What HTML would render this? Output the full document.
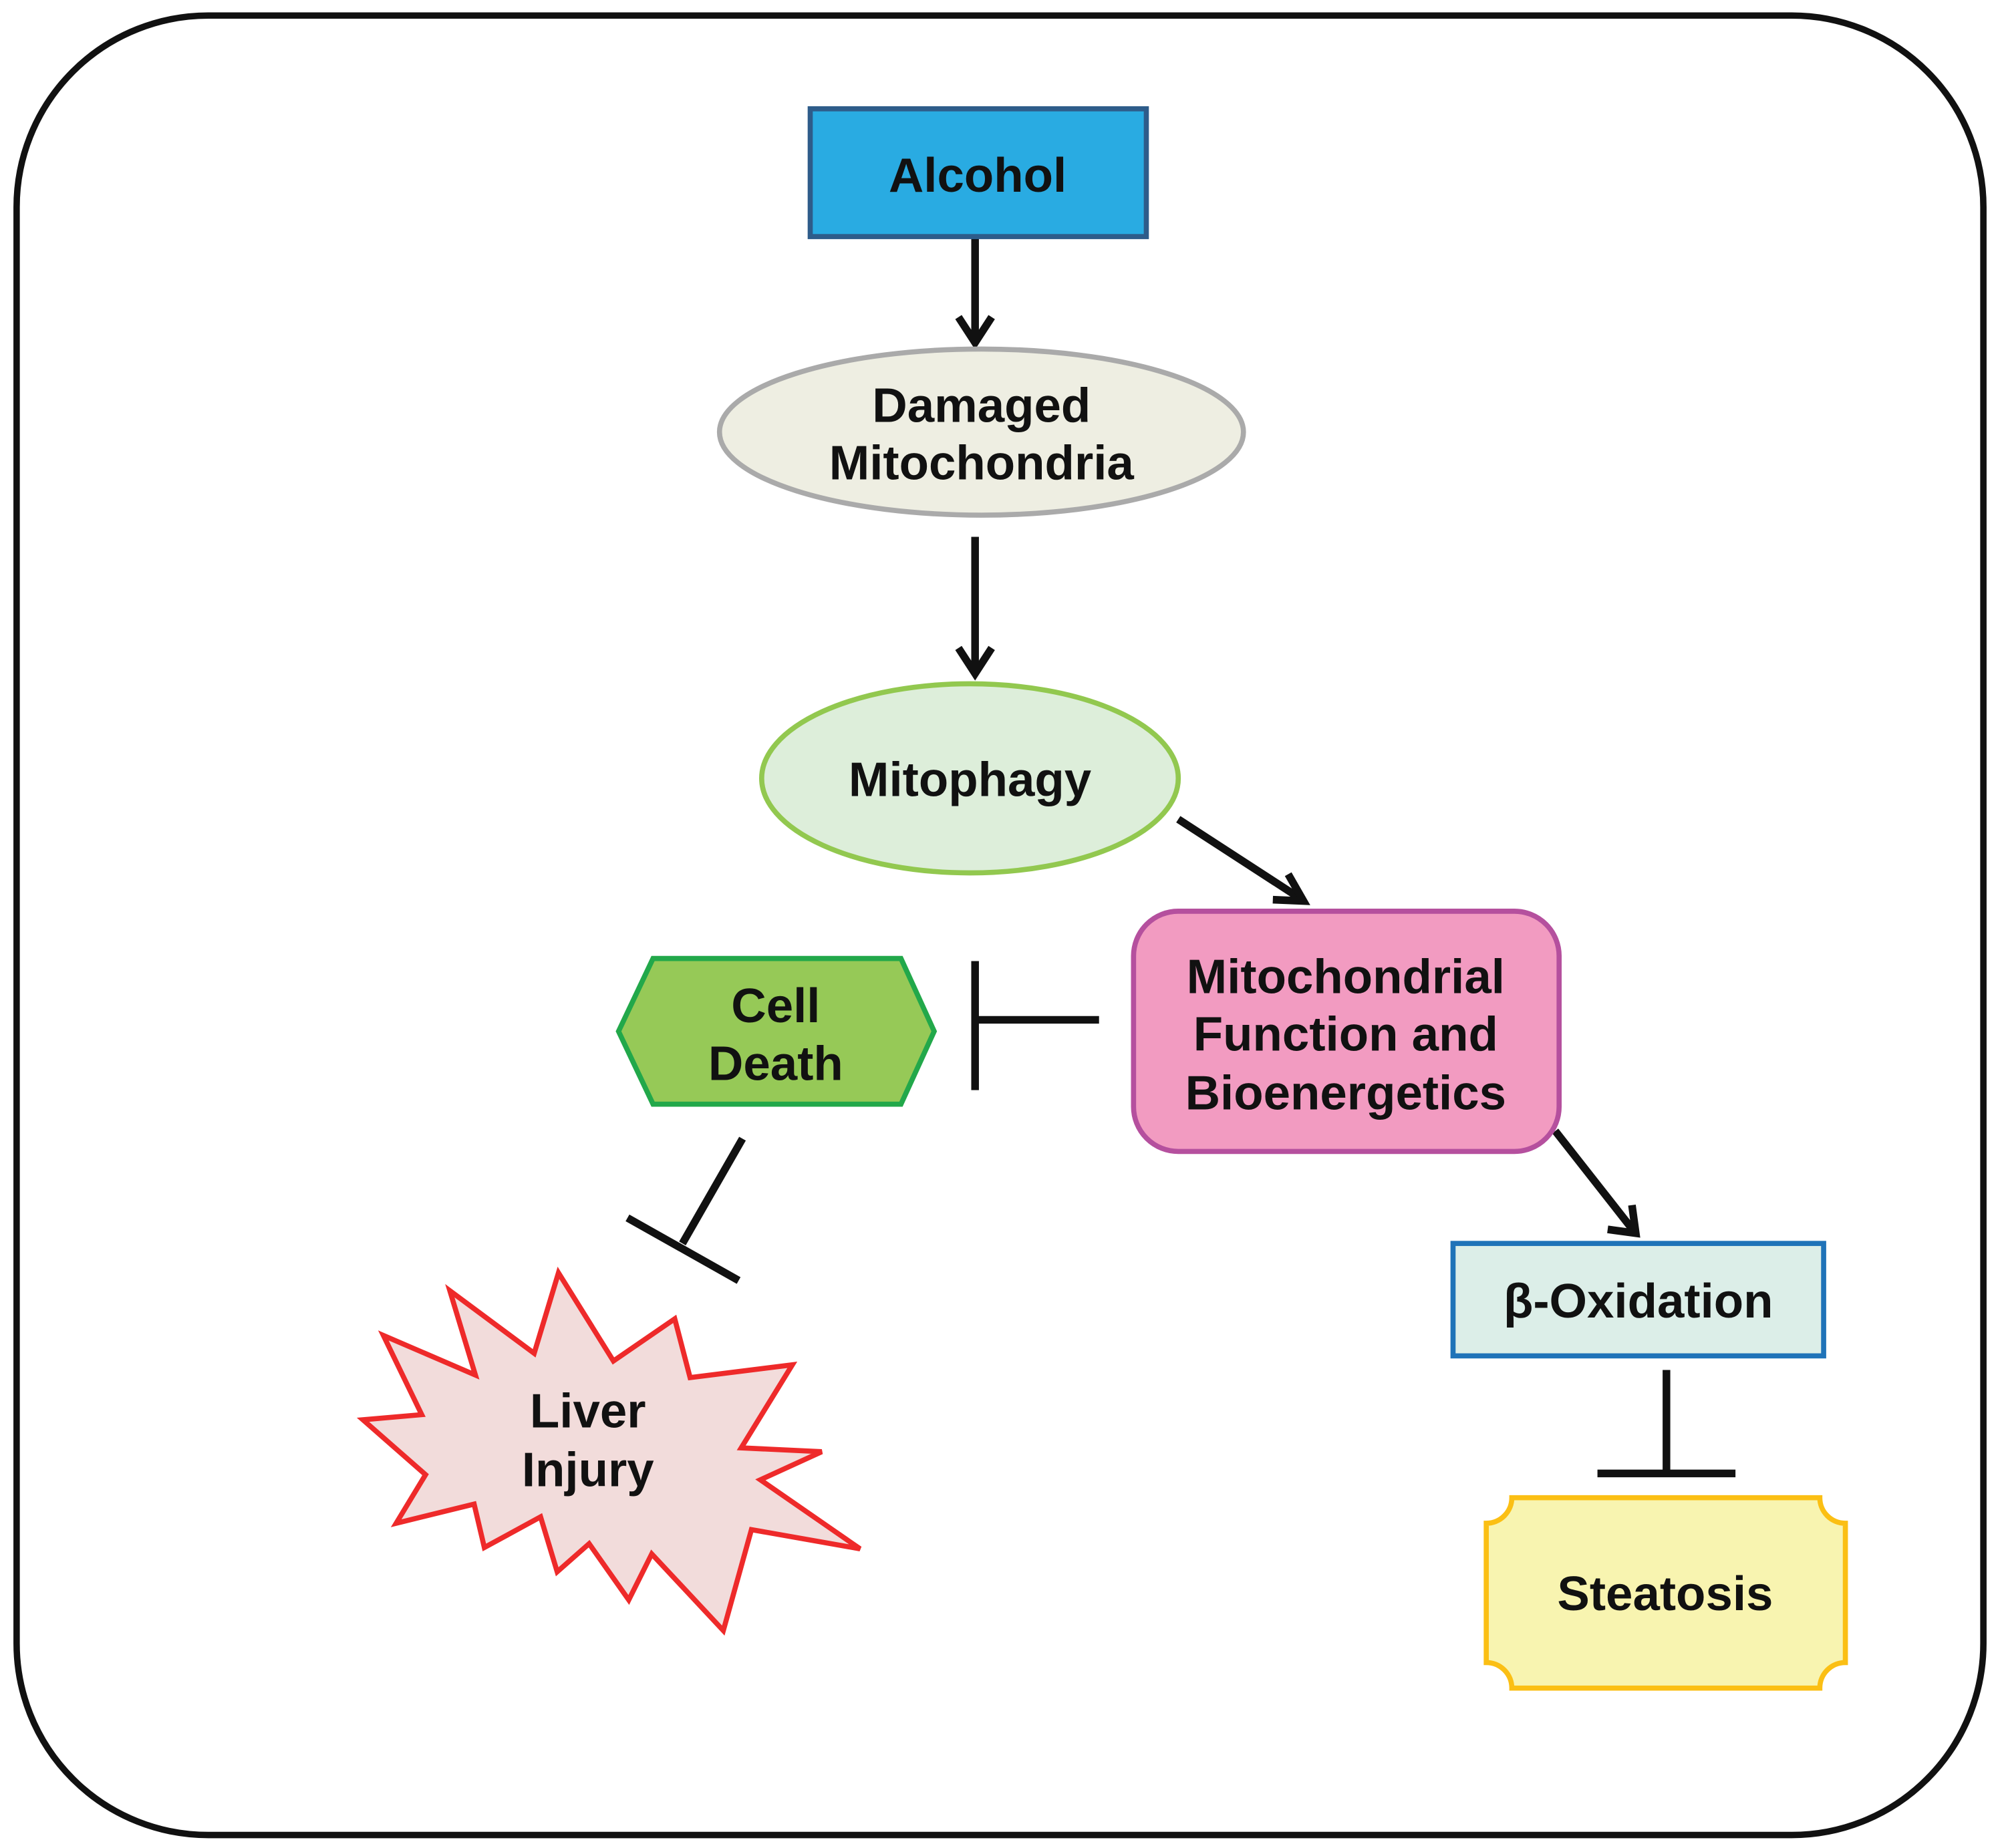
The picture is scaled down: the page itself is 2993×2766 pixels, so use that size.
<!DOCTYPE html>
<html><head><meta charset="utf-8"><style>
html,body{margin:0;padding:0;background:#fff;}
svg{display:block;}
text{font-family:"Liberation Sans",Arial,sans-serif;font-weight:bold;font-size:38px;fill:#111;text-anchor:middle;}
</style></head><body>
<svg width="2993" height="2766" viewBox="0 0 1565 1446" xmlns="http://www.w3.org/2000/svg">
<rect x="13" y="12" width="1539" height="1424" rx="150" ry="150" fill="#fff" stroke="#111" stroke-width="5"/>
<g stroke="#111" stroke-width="6" fill="none" stroke-linecap="butt">
<line x1="763" y1="185" x2="763" y2="267"/><polyline points="750,248 763,268 776,248"/>
<line x1="763" y1="420" x2="763" y2="526"/><polyline points="750,507 763,527 776,507"/>
<line x1="922" y1="641" x2="1019" y2="704"/><polyline points="996,704 1020,705 1008,684"/>
<line x1="1217" y1="885" x2="1279" y2="964"/><polyline points="1258,962 1280,965 1277,943"/>
<line x1="860" y1="798" x2="763" y2="798"/><line x1="763" y1="752" x2="763" y2="853"/>
<line x1="581" y1="891" x2="534" y2="973"/><line x1="491" y1="953" x2="578" y2="1002"/>
<line x1="1304" y1="1072" x2="1304" y2="1153"/><line x1="1250" y1="1153" x2="1358" y2="1153"/>
</g>
<rect x="634" y="85" width="263" height="100" fill="#29ABE2" stroke="#2E5C8A" stroke-width="4"/>
<text x="765" y="150">Alcohol</text>
<ellipse cx="768" cy="338" rx="205" ry="65" fill="#EEEEE2" stroke="#AAAAAA" stroke-width="4"/>
<text x="768" y="330">Damaged</text><text x="768" y="375">Mitochondria</text>
<ellipse cx="759" cy="609" rx="163" ry="74" fill="#DDEEDA" stroke="#92C84F" stroke-width="4"/>
<text x="759" y="623">Mitophagy</text>
<rect x="887" y="713" width="333" height="188" rx="35" ry="35" fill="#F29BC1" stroke="#B5509E" stroke-width="4"/>
<text x="1053" y="777">Mitochondrial</text><text x="1053" y="822">Function and</text><text x="1053" y="868">Bioenergetics</text>
<polygon points="484,807 511,750 705,750 731,807 705,864 511,864" fill="#96C957" stroke="#22A84A" stroke-width="4"/>
<text x="607" y="800">Cell</text><text x="607" y="845">Death</text>
<polygon points="437,996 480,1065 528,1032 540,1078 620,1068 580,1133 643,1136 595,1158 673,1212 588,1197 566,1276 510,1216 492,1252 461,1208 436,1230 423,1187 379,1211 371,1177 310,1192 333,1154 284,1111 330,1107 300,1045 372,1076 352,1010 418,1059" fill="#F2DCDB" stroke="#EE2A2A" stroke-width="4" stroke-linejoin="miter"/>
<text x="460" y="1117">Liver</text><text x="460" y="1163">Injury</text>
<rect x="1137" y="973" width="290" height="88" fill="#DCEEE8" stroke="#1F73B8" stroke-width="4"/>
<text x="1282" y="1031">β-Oxidation</text>
<path d="M1183,1172 H1424 A20,20 0 0 0 1444,1192 V1301 A20,20 0 0 0 1424,1321 H1183 A20,20 0 0 0 1163,1301 V1192 A20,20 0 0 0 1183,1172 Z" fill="#F8F4B0" stroke="#FBBF14" stroke-width="4"/>
<text x="1303" y="1260">Steatosis</text>
</svg>
</body></html>
